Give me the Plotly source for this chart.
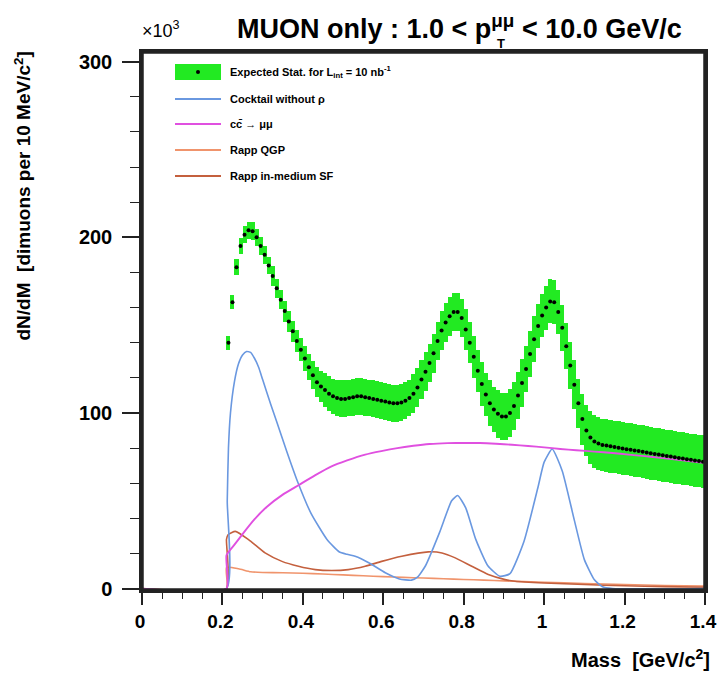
import plotly.graph_objects as go

# ---------------- data (values in units of 10^3 dimuons) ----------------
bin_lo = 0.21
bin_w = 0.01
mass = [round(bin_lo + bin_w * (i + 0.5), 3) for i in range(119)]

expected = [
    140, 163, 183, 195, 201.5, 204, 203.5, 200, 195, 190,
    184, 178, 171, 164.5, 158, 152, 146.5, 141, 136, 131,
    126, 121.5, 117.5, 115, 113, 111, 109.5, 108.5, 108, 108,
    108.5, 109, 109.5, 109.5, 109, 108.5, 108, 107.5, 107, 106.5,
    106, 105.5, 105.5, 106, 107, 108.5, 111, 114.5, 119, 123.5,
    128.5, 134, 141, 147, 151.5, 155, 157.5, 157.5, 154, 147.5,
    140, 132, 124, 116.5, 110.5, 105.5, 102, 99.5, 98, 98,
    100, 104, 110, 117, 125, 133.5, 142, 149.5, 155.5, 160,
    163.5, 163, 157.5, 148.5, 138, 127, 116, 105.5, 96.5, 90,
    86, 83.8, 82.6, 81.8, 81.4, 81.0, 80.6, 80.2, 79.8, 79.4,
    79.0, 78.6, 78.3, 77.9, 77.5, 77.1, 76.7, 76.3, 75.9, 75.5,
    75.2, 74.8, 74.4, 74.0, 73.7, 73.3, 72.9, 72.6, 72.2,
]
expected_err = [
    4, 4, 4.5, 4.5, 5, 5, 5, 5, 5, 5,
    5, 5.5, 5.5, 5.5, 6, 6, 6, 6.5, 6.5, 7,
    7.5, 8, 8.5, 9, 9.5, 10, 10, 10.5, 10.5, 10.5,
    10.5, 10.5, 10.5, 10.5, 10.5, 10.5, 10.5, 10.5, 10.5, 10.5,
    10.5, 10.5, 10.5, 10.5, 10.5, 10.5, 11, 11, 11, 11,
    11, 11, 11, 11, 11, 11, 11, 11, 11, 11.5,
    11.5, 12, 12, 12.5, 12.5, 13, 13, 13.5, 13.5, 13.5,
    13.5, 13.5, 13.5, 13.5, 13, 13, 13, 12.5, 12.5, 12.5,
    12.5, 12.5, 12.5, 13, 13, 13.5, 14, 14, 14.5, 14.5,
    15, 15, 15, 15, 15, 15, 15, 15, 15, 15,
    15, 15, 15, 15, 15, 15, 15, 15, 15, 15,
    15, 15, 15, 15, 15, 15, 15, 15, 15,
]

cocktail_m = [0.0, 0.21, 0.212, 0.215, 0.22, 0.23, 0.24, 0.25, 0.26, 0.27, 0.28, 0.29, 0.30,
              0.32, 0.335, 0.36, 0.385, 0.42, 0.46, 0.49, 0.51, 0.53, 0.565, 0.605, 0.64,
              0.67, 0.685, 0.705, 0.74, 0.77, 0.785, 0.805, 0.83, 0.86, 0.89, 0.915, 0.95,
              0.985, 1.0, 1.02, 1.045, 1.075, 1.10, 1.125, 1.145, 1.17, 1.4]
cocktail_v = [0, 0, 50, 80, 100, 118, 128, 133, 135, 134.5, 131, 126, 119,
              105, 95, 78, 62, 43, 28, 21, 19.5, 18.4, 14.6, 9, 5.5,
              4.8, 6.5, 13, 32, 50, 53, 46, 28, 13, 7, 8.5, 27,
              58, 72, 79.5, 67, 39, 16.5, 5, 1, 0, 0]

ccbar_m = [0.0, 0.21, 0.2101, 0.23, 0.25, 0.28, 0.31, 0.35, 0.39, 0.43, 0.47, 0.51, 0.555,
           0.595, 0.635, 0.675, 0.715, 0.76, 0.80, 0.84, 0.88, 0.92, 0.96, 1.00, 1.04,
           1.08, 1.125, 1.17, 1.21, 1.25, 1.29, 1.345, 1.4]
ccbar_v = [0, 0, 19, 25, 31, 39.5, 46.5, 53.5, 59, 64.5, 69.5, 73, 76.3,
           78.3, 80, 81.3, 82.3, 82.8, 82.9, 82.9, 82.5, 81.9, 81.2, 80.4, 79.5,
           78.8, 78, 77.2, 76.3, 75.4, 74.4, 73, 71.5]

qgp_m = [0.0, 0.21, 0.2101, 0.24, 0.27, 0.30, 0.35, 0.40, 0.45, 0.50, 0.55, 0.60, 0.65,
         0.70, 0.75, 0.80, 0.85, 0.90, 1.0, 1.1, 1.2, 1.3, 1.4]
qgp_v = [0, 0, 12, 11.3, 9.6, 9.2, 9.0, 8.7, 8.3, 7.8, 7.3, 6.8, 6.4,
         6.0, 5.6, 5.2, 4.8, 4.4, 3.6, 2.9, 2.3, 1.8, 1.4]

insf_m = [0.0, 0.21, 0.2101, 0.214, 0.232, 0.265, 0.306, 0.348, 0.389, 0.431, 0.472, 0.513,
          0.555, 0.596, 0.646, 0.712, 0.746, 0.779, 0.82, 0.861, 0.903, 0.928, 1.0, 1.1,
          1.2, 1.3, 1.4]
insf_v = [0, 0, 28, 30.7, 32.6, 27.9, 20.3, 15.5, 12.7, 10.8, 10.3, 10.8,
          12.7, 15.5, 18.4, 20.9, 20.3, 17.5, 12.7, 8, 5.1, 4.2, 3.2, 2.3,
          1.6, 1.1, 0.8]

x_ticks = [0, 0.2, 0.4, 0.6, 0.8, 1.0, 1.2, 1.4]
y_ticks = [0, 100, 200, 300]

# ---------------- styling ----------------
FONT = "Liberation Sans"
GREEN = "#22ea22"
BLUE = "#6a98e0"
MAGENTA = "#e050e0"
QGP_C = "#f0946c"
SF_C = "#c4603e"
FRAME = "#222222"

W, H = 718, 673
L, R, T, B = 142, 705, 52, 590


def px(xp):
    return (xp - L) / (R - L)


def py(yp):
    return (B - yp) / (B - T)


fig = go.Figure()

# error boxes (E2 style)
fig.add_trace(go.Bar(
    x=mass, y=[2 * e for e in expected_err],
    base=[v - e for v, e in zip(expected, expected_err)],
    width=bin_w, marker=dict(color=GREEN, line=dict(width=0)),
    showlegend=False, hoverinfo="skip"))

fig.add_trace(go.Scatter(x=qgp_m, y=qgp_v, mode="lines",
                         line=dict(color=QGP_C, width=1.6, shape="spline", smoothing=0.5),
                         showlegend=False))
fig.add_trace(go.Scatter(x=insf_m, y=insf_v, mode="lines",
                         line=dict(color=SF_C, width=1.6, shape="spline", smoothing=0.5),
                         showlegend=False))
fig.add_trace(go.Scatter(x=cocktail_m, y=cocktail_v, mode="lines",
                         line=dict(color=BLUE, width=1.6, shape="spline", smoothing=0.5),
                         showlegend=False))
fig.add_trace(go.Scatter(x=ccbar_m, y=ccbar_v, mode="lines",
                         line=dict(color=MAGENTA, width=1.9, shape="spline", smoothing=0.5),
                         showlegend=False))
fig.add_trace(go.Scatter(x=mass, y=expected, mode="markers",
                         marker=dict(color="black", size=4, symbol="circle"),
                         showlegend=False))

x_font = dict(family=FONT, size=19, color="black", weight="bold")
y_font = dict(family=FONT, size=20, color="black", weight="bold")

fig.update_xaxes(
    range=[0, 1.4], tickvals=x_ticks, ticks="outside", ticklen=12, tickwidth=1.8,
    tickcolor=FRAME, showline=True, linecolor=FRAME, linewidth=2.5, mirror=True,
    showgrid=False, zeroline=False, tickfont=x_font, automargin=False,
    ticklabeloverflow="allow", ticklabelshift=-2,
    minor=dict(dtick=0.05, ticks="outside", ticklen=6, tickwidth=1.4, tickcolor=FRAME))
fig.update_yaxes(
    range=[-0.8, 305.5], tickvals=y_ticks, ticks="outside", ticklen=17, tickwidth=1.8,
    tickcolor=FRAME, showline=True, linecolor=FRAME, linewidth=2.5, mirror=True,
    showgrid=False, zeroline=False, tickfont=y_font, ticklabelstandoff=6,
    automargin=False,
    minor=dict(dtick=20, ticks="outside", ticklen=9, tickwidth=1.4, tickcolor=FRAME))

shapes = []
annotations = []

# frame
shapes.append(dict(type="rect", xref="paper", yref="paper",
                   x0=px(L + 0.5), x1=px(R - 0.5), y0=py(B - 0.5), y1=py(T + 0.5),
                   line=dict(color=FRAME, width=2.5), fillcolor="rgba(0,0,0,0)",
                   layer="above"))

# manual legend
shapes.append(dict(type="rect", xref="paper", yref="paper",
                   x0=px(175), x1=px(221), y0=py(80), y1=py(64),
                   fillcolor=GREEN, line=dict(width=0)))
shapes.append(dict(type="circle", xref="paper", yref="paper",
                   x0=px(196), x1=px(200), y0=py(74), y1=py(70),
                   fillcolor="black", line=dict(width=0)))
leg_rows = [
    (72, None, "Expected Stat. for L<sub>int</sub> = 10 nb<sup>-1</sup>"),
    (99, BLUE, "Cocktail without ρ"),
    (124, MAGENTA, "cc\u0304 → μμ"),
    (150, QGP_C, "Rapp QGP"),
    (176, SF_C, "Rapp in-medium SF"),
]
for yrow, col, txt in leg_rows:
    if col is not None:
        shapes.append(dict(type="line", xref="paper", yref="paper",
                           x0=px(175), x1=px(221), y0=py(yrow), y1=py(yrow),
                           line=dict(color=col, width=1.8)))
    annotations.append(dict(xref="paper", yref="paper", x=px(228), y=py(yrow),
                            xanchor="left", yanchor="middle", showarrow=False, text=txt,
                            font=dict(family=FONT, size=11, color="black", weight="bold")))

# title
annotations.append(dict(xref="paper", yref="paper", x=px(459), y=py(27),
                        xanchor="center", yanchor="middle", showarrow=False,
                        text="MUON only : 1.0 < p<sup>μμ</sup> < 10.0 GeV/c",
                        font=dict(family=FONT, size=27, color="black", weight="bold")))
annotations.append(dict(xref="paper", yref="paper", x=px(501), y=py(43),
                        xanchor="center", yanchor="middle", showarrow=False,
                        text="T",
                        font=dict(family=FONT, size=13, color="black", weight="bold")))
# exponent
annotations.append(dict(xref="paper", yref="paper", x=px(140), y=py(30),
                        xanchor="left", yanchor="middle", showarrow=False,
                        text="×10<sup>3</sup>",
                        font=dict(family=FONT, size=18, color="black")))
# axis titles
annotations.append(dict(xref="paper", yref="paper", x=px(22), y=py(50),
                        xanchor="center", yanchor="top", showarrow=False, textangle=-90,
                        text="dN/dM  [dimuons per 10 MeV/c<sup>2</sup>]",
                        font=dict(family=FONT, size=19, color="black", weight="bold")))
annotations.append(dict(xref="paper", yref="paper", x=px(712), y=py(658),
                        xanchor="right", yanchor="middle", showarrow=False,
                        text="Mass  [GeV/c<sup>2</sup>]",
                        font=dict(family=FONT, size=20, color="black", weight="bold")))

fig.update_layout(
    width=W, height=H, autosize=False,
    margin=dict(l=L, r=W - R, t=T, b=H - B, pad=0, autoexpand=False),
    paper_bgcolor="white", plot_bgcolor="white",
    barmode="overlay", bargap=0,
    shapes=shapes, annotations=annotations,
    showlegend=False,
)

fig.write_html(
    "out.html",
    config={"displayModeBar": False, "responsive": False},
    post_script="document.body.style.margin='0px';document.body.style.padding='0px';"
                "document.body.style.overflow='hidden';",
)
